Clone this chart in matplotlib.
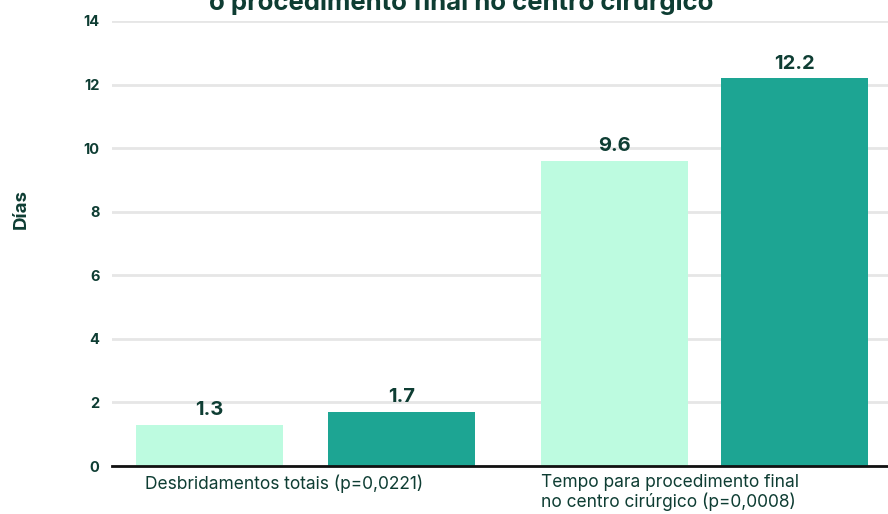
import matplotlib.pyplot as plt

plt.rcParams['font.family'] = ['Inter', 'DejaVu Sans']

categories = ["Desbridamentos totais (p=0,0221)",
              "Tempo para procedimento final\nno centro cirúrgico (p=0,0008)"]
series_a = [1.3, 9.6]
series_b = [1.7, 12.2]
yticks = [0, 2, 4, 6, 8, 10, 12, 14]

light = "#bdfbe0"
teal = "#1da593"
dark = "#0e3d33"

fig = plt.figure(figsize=(8.88, 5.14), dpi=100)
ax = fig.add_axes([112 / 888, 1 - 466 / 514, 776 / 888, 445 / 514])

# group centres and half distance between the two bars (pixel-like units)
centers = [193.5, 592.5]
half = [96, 90]
width = 147

xa = [c - h for c, h in zip(centers, half)]
xb = [c + h for c, h in zip(centers, half)]
bars_a = ax.bar(xa, series_a, width=width, color=light, zorder=2)
bars_b = ax.bar(xb, series_b, width=width, color=teal, zorder=2)

for bars in (bars_a, bars_b):
    for b in bars:
        ax.annotate(f"{b.get_height():.1f}", (b.get_x() + b.get_width() / 2, b.get_height()),
                    xytext=(0, 4), textcoords="offset points", ha="center", va="bottom",
                    fontsize=14.5, fontweight="bold", color=dark)

ax.set_xlim(0, 776)
ax.set_ylim(0, 14)
ax.set_yticks(yticks)
ax.set_yticklabels([str(t) for t in yticks], fontsize=10.5, fontweight="bold", color=dark)
ax.tick_params(axis="y", length=0, pad=9)
ax.yaxis.grid(True, color="#e6e6e6", linewidth=2, zorder=0)
ax.set_axisbelow(True)

# category labels, left aligned under each group
ax.set_xticks([xa[0] - width / 2 + 9, xa[1] - width / 2])
ax.set_xticklabels(categories, ha="left", va="top", fontsize=12.5, color=dark,
                   linespacing=1.05)
ax.tick_params(axis="x", length=0, pad=6)

for s in ("top", "right", "left"):
    ax.spines[s].set_visible(False)
ax.spines["bottom"].set_linewidth(2)
ax.spines["bottom"].set_color("#111111")

fig.text(21 / 888, 1 - 209 / 514, "Días", rotation=90, ha="center", va="center",
         fontsize=13.5, fontweight="bold", color=dark)

fig.text(461 / 888, 1 - 10 / 514, "o procedimento final no centro cirúrgico",
         ha="center", va="baseline", fontsize=18.5, fontweight="bold", color=dark)

fig.savefig("out.png", dpi=100)
